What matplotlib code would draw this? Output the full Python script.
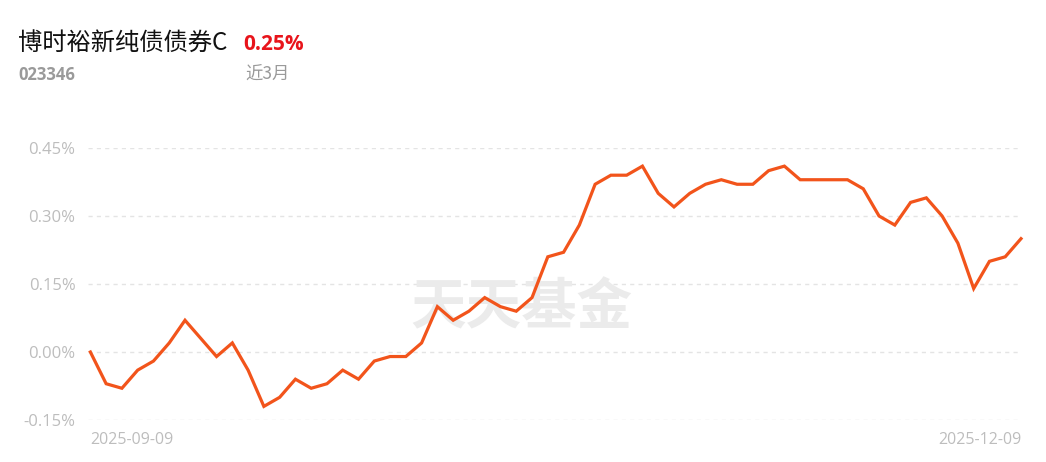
import matplotlib
matplotlib.use("Agg")
import matplotlib.pyplot as plt
import numpy as np

plt.rcParams['font.family'] = ['Noto Sans CJK SC', 'DejaVu Sans']

fund_name = "博时裕新纯债债券C"
fund_code = "023346"
period_label = "近3月"
period_return = "0.25%"
watermark = "天天基金"
start_label = "2025-09-09"
end_label = "2025-12-09"

returns = [0.00, -0.07, -0.08, -0.04, -0.02, 0.02, 0.07, 0.03, -0.01, 0.02,
           -0.04, -0.12, -0.10, -0.06, -0.08, -0.07, -0.04, -0.06, -0.02, -0.01,
           -0.01, 0.02, 0.10, 0.07, 0.09, 0.12, 0.10, 0.09, 0.12, 0.21,
           0.22, 0.28, 0.37, 0.39, 0.39, 0.41, 0.35, 0.32, 0.35, 0.37,
           0.38, 0.37, 0.37, 0.40, 0.41, 0.38, 0.38, 0.38, 0.38, 0.36,
           0.30, 0.28, 0.33, 0.34, 0.30, 0.24, 0.14, 0.20, 0.21, 0.25]
yticks = [-0.15, 0.00, 0.15, 0.30, 0.45]

W, H = 1046, 462
fig = plt.figure(figsize=(W/100, H/100), dpi=100)
ax = fig.add_axes([88/W, (H-420)/H, (1021-88)/W, (420-148)/H])

x = np.arange(len(returns))
ax.plot(x, returns, color='#f2541b', lw=2.3, solid_joinstyle='miter', zorder=3, clip_on=False)
ax.set_xlim(-0.15, len(returns)-1)
ax.set_ylim(-0.15, 0.45)
ax.set_yticks(yticks)
ax.set_yticklabels([f"{v:.2f}%" for v in yticks], fontsize=12, color='#bdbdbd',
                   family=['Open Sans', 'DejaVu Sans'])
ax.tick_params(axis='y', length=0, pad=9)
ax.set_xticks([0, len(returns)-1])
ax.set_xticklabels([start_label, end_label], fontsize=11.5, color='#bdbdbd',
                   family=['Open Sans', 'DejaVu Sans'])
ax.get_xticklabels()[0].set_ha('left')
ax.get_xticklabels()[1].set_ha('right')
ax.tick_params(axis='x', length=0, pad=9)
for s in ax.spines.values():
    s.set_visible(False)
ax.grid(axis='y', color='#e4e4e4', ls=(0, (3, 3)), lw=1)
ax.set_axisbelow(True)

ax.text((521-88)/933, (420-308)/272, watermark, transform=ax.transAxes, fontsize=40,
        color='#ebebeb', fontweight='bold', ha='center', va='center', zorder=1)

fig.text(18/W, 1-44/H, fund_name, fontsize=17.5, color='#111111', va='center', ha='left')
fig.text(243/W, 1-44/H, period_return, fontsize=15, color='#e8141b', fontweight='bold',
         va='center', ha='left', family=['Open Sans', 'DejaVu Sans'])
fig.text(18/W, 1-75/H, fund_code, fontsize=12, color='#9a9a9a', fontweight='bold',
         va='center', ha='left', family=['Open Sans', 'DejaVu Sans'])
fig.text(245/W, 1-75/H, period_label, fontsize=12.5, color='#9a9a9a', va='center', ha='left')

fig.savefig('out.png', dpi=100, facecolor='white')
